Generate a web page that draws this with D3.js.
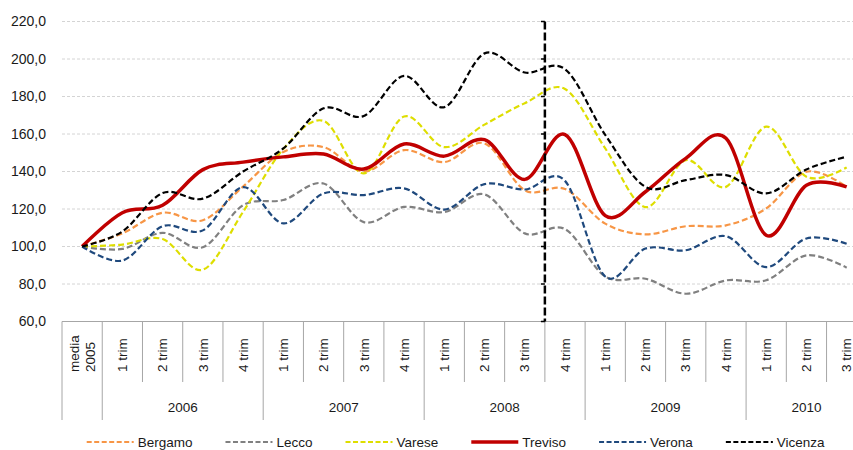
<!DOCTYPE html>
<html>
<head>
<meta charset="utf-8">
<script src="https://cdn.jsdelivr.net/npm/d3@7"></script>
<style>
body { margin: 0; background: #fff; }
text { font-family: "Liberation Sans", Arial, sans-serif; fill: #1a1a1a; }
</style>
</head>
<body>
<script>
const width = 853
const height = 450

// categories (x axis, two levels)
const categories = ["media\n2005",
    "1 trim", "2 trim", "3 trim", "4 trim",
    "1 trim", "2 trim", "3 trim", "4 trim",
    "1 trim", "2 trim", "3 trim", "4 trim",
    "1 trim", "2 trim", "3 trim", "4 trim",
    "1 trim", "2 trim", "3 trim"]
const years = ["",
    "2006", "2006", "2006", "2006",
    "2007", "2007", "2007", "2007",
    "2008", "2008", "2008", "2008",
    "2009", "2009", "2009", "2009",
    "2010", "2010", "2010"]

const yTicks = [60, 80, 100, 120, 140, 160, 180, 200, 220]

// series values
const bergamo = [100, 107, 118, 114, 132, 150.4, 153, 140, 151.4, 145, 155, 130, 130.7, 112.2, 106.5, 110.8, 111.3, 120.3, 139.9, 131.8]
const lecco = [100, 98.7, 107.3, 99.6, 122, 124.8, 133.6, 113, 121.1, 118.4, 127.8, 107, 109.3, 84, 82.8, 74.8, 81.9, 82, 95.3, 88.7]
const varese = [100, 101, 104, 87.6, 118.5, 152, 167, 139, 169.3, 153, 165, 176.4, 184, 152.3, 121, 146, 131.8, 163.9, 137.2, 142.2]
const treviso = [100, 118, 122, 141, 145, 147.8, 149.3, 141.3, 154.7, 148.2, 157, 135.8, 159.7, 116.5, 129.2, 147, 157.7, 106, 132.7, 131.8]
const verona = [100, 92.5, 110.8, 108.6, 131.7, 112.3, 128.3, 127.4, 131, 119.7, 133.3, 130.4, 135, 84, 98.9, 98, 105.5, 89, 104.3, 101.5]
const vicenza = [100, 108, 128.5, 125.5, 140, 152.3, 173.7, 169.6, 191, 174.3, 203, 192.8, 194.6, 159.5, 131.8, 135.4, 138.1, 128.3, 141.1, 147.9]

// category index of the vertical dashed marker (between 3 and 4 trim 2008)
const markerAt = 12

const series = [
    { name: "Bergamo", values: bergamo, color: "#F79646", w: 2.2, dash: "6,3" },
    { name: "Lecco", values: lecco, color: "#808080", w: 2.2, dash: "6,3" },
    { name: "Varese", values: varese, color: "#DEDE00", w: 2.2, dash: "6,3" },
    { name: "Treviso", values: treviso, color: "#C00000", w: 3.5, dash: null },
    { name: "Verona", values: verona, color: "#1F497D", w: 2.2, dash: "6,3" },
    { name: "Vicenza", values: vicenza, color: "#000000", w: 2.2, dash: "6,3" },
]

const left = 62
const step = 40.24

const svg = d3.select("body").append("svg")
    .attr("width", width)
    .attr("height", height)
    .attr("viewBox", [0, 0, width, height])

const x = d3.scaleBand()
    .domain(d3.range(categories.length))
    .range([left, left + step * categories.length])
    .padding(0)

const y = d3.scaleLinear()
    .domain([60, 220])
    .range([321.5, 21.5])

const fmt = d3.formatLocale({ decimal: ",", thousands: ".", grouping: [3], currency: ["", "€"] }).format(".1f")

// grid
svg.append("g")
    .selectAll("line")
    .data(yTicks.filter((d) => d > 60))
    .join("line")
    .attr("x1", left)
    .attr("x2", width)
    .attr("y1", (d) => y(d))
    .attr("y2", (d) => y(d))
    .attr("stroke", "#d4d4d4")
    .attr("stroke-width", 1)
    .attr("stroke-dasharray", "3,2")

// y labels
svg.append("g")
    .selectAll("text")
    .data(yTicks)
    .join("text")
    .attr("x", 46)
    .attr("y", (d) => y(d))
    .attr("dy", "0.35em")
    .attr("text-anchor", "end")
    .attr("font-size", 14)
    .text((d) => fmt(d))

// x axis line and category separators
const axisY = y(60)
svg.append("line")
    .attr("x1", left)
    .attr("x2", x.range()[1])
    .attr("y1", axisY)
    .attr("y2", axisY)
    .attr("stroke", "#a6a6a6")
    .attr("stroke-width", 1.2)

const bounds = d3.range(categories.length + 1)
svg.append("g")
    .selectAll("line")
    .data(bounds)
    .join("line")
    .attr("x1", (i) => left + i * x.bandwidth())
    .attr("x2", (i) => left + i * x.bandwidth())
    .attr("y1", axisY)
    .attr("y2", (i) => (i === 0 || i === categories.length || years[i] !== years[i - 1]) ? 420 : 382)
    .attr("stroke", "#a6a6a6")
    .attr("stroke-width", 1)

// category labels (rotated)
const catG = svg.append("g")
categories.forEach((c, i) => {
    const lines = c.split("\n")
    const cx = x(i) + x.bandwidth() / 2
    lines.forEach((t, j) => {
        const off = (j - (lines.length - 1) / 2) * 16.5
        catG.append("text")
            .attr("transform", `translate(${cx + off},372) rotate(-90)`)
            .attr("dy", "0.35em")
            .attr("font-size", 13.5)
            .text(t)
    })
})

// year labels
const groups = d3.groups(d3.range(categories.length), (i) => years[i]).filter((g) => g[0] !== "")
svg.append("g")
    .selectAll("text")
    .data(groups)
    .join("text")
    .attr("x", (g) => (x(g[1][0]) + x(g[1][g[1].length - 1]) + x.bandwidth()) / 2)
    .attr("y", 407)
    .attr("dy", "0.35em")
    .attr("text-anchor", "middle")
    .attr("font-size", 13.5)
    .text((g) => g[0])

// series
const line = d3.line()
    .x((d, i) => x(i) + x.bandwidth() / 2)
    .y((d) => y(d))
    .curve(d3.curveCardinal.tension(0))

svg.append("g")
    .attr("fill", "none")
    .selectAll("path")
    .data(series)
    .join("path")
    .attr("d", (s) => line(s.values))
    .attr("stroke", (s) => s.color)
    .attr("stroke-width", (s) => s.w)
    .attr("stroke-dasharray", (s) => s.dash)
    .attr("stroke-linejoin", "round")

// vertical dashed marker with small ticks
const mx = left + markerAt * x.bandwidth()
const marker = svg.append("g").attr("stroke", "#000")
marker.append("line")
    .attr("x1", mx).attr("x2", mx)
    .attr("y1", y(220)).attr("y2", y(60))
    .attr("stroke-width", 2.5)
    .attr("stroke-dasharray", "8,3")
marker.selectAll("line.tick")
    .data(yTicks)
    .join("line")
    .attr("class", "tick")
    .attr("x1", mx - 4).attr("x2", mx)
    .attr("y1", (d) => y(d)).attr("y2", (d) => y(d))
    .attr("stroke-width", 1.5)

// legend
const legend = svg.append("g")
const ly = 442
let lx = 86.7
series.forEach((s) => {
    const g = legend.append("g")
    g.append("line")
        .attr("x1", lx).attr("x2", lx + 47)
        .attr("y1", ly).attr("y2", ly)
        .attr("stroke", s.color)
        .attr("stroke-width", s.dash ? 2.2 : 3.5)
        .attr("stroke-dasharray", s.dash ? "5,2.5" : null)
    const t = g.append("text")
        .attr("x", lx + 51)
        .attr("y", ly)
        .attr("dy", "0.35em")
        .attr("font-size", 13.5)
        .text(s.name)
    lx += 51 + t.node().getComputedTextLength() + 33
})
</script>
</body>
</html>
